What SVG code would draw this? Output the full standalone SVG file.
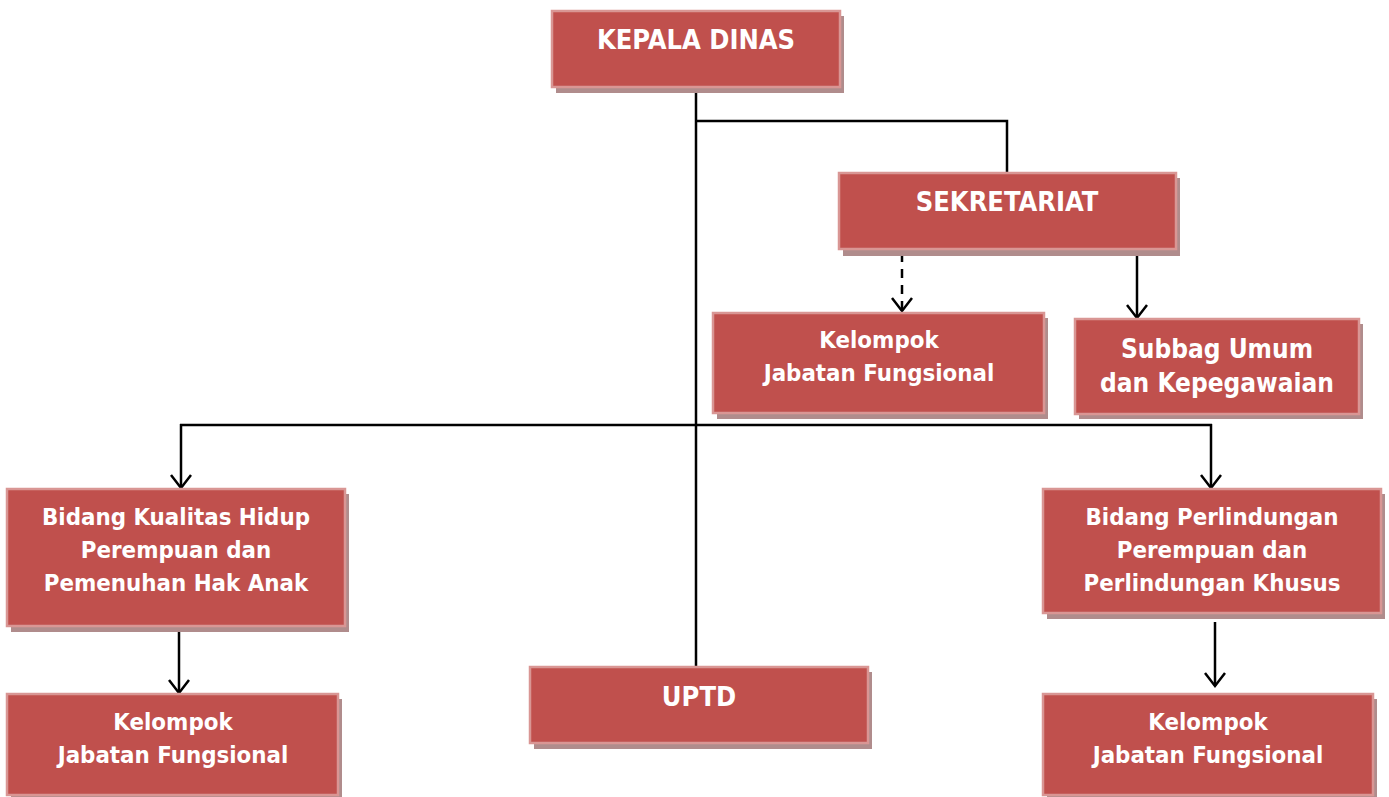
<svg xmlns="http://www.w3.org/2000/svg" width="1389" height="797" viewBox="0 0 1389 797">
<defs>
<style>
.box{fill:#c0504d;stroke:#d99694;stroke-width:2.5}
.sh{fill:#b08c8c}
.t{font-family:"DejaVu Sans","Liberation Sans",sans-serif;font-stretch:condensed;font-weight:bold;fill:#ffffff;text-anchor:middle;font-size:23.8px}
.big{font-size:27px}
.mid{font-size:26px}
.ln{stroke:#000;stroke-width:2.5;fill:none}
</style>
<marker id="ar" markerWidth="20" markerHeight="24" refX="15" refY="12" orient="auto" markerUnits="userSpaceOnUse" viewBox="0 0 20 24">
<path d="M2,2 L15,12 L2,22" fill="none" stroke="#000" stroke-width="2.5"/>
</marker>
</defs>
<rect width="1389" height="797" fill="#ffffff"/>
<g id="connectors">
<line class="ln" x1="696" y1="88" x2="696" y2="667"/>
<polyline class="ln" points="696,121 1007,121 1007,173"/>
<line class="ln" x1="902" y1="253" x2="902" y2="311" stroke-dasharray="9,7" marker-end="url(#ar)"/>
<line class="ln" x1="1137" y1="251" x2="1137" y2="318" marker-end="url(#ar)"/>
<line class="ln" x1="180" y1="425" x2="1212" y2="425"/>
<line class="ln" x1="181" y1="424" x2="181" y2="488" marker-end="url(#ar)"/>
<line class="ln" x1="1211" y1="424" x2="1211" y2="488" marker-end="url(#ar)"/>
<line class="ln" x1="179" y1="629" x2="179" y2="693" marker-end="url(#ar)"/>
<line class="ln" x1="1215" y1="622" x2="1215" y2="686" marker-end="url(#ar)"/>
</g>
<g id="kepala">
<rect class="sh" x="556" y="16" width="288" height="77"/>
<rect class="box" x="552" y="11" width="288" height="76"/>
<text class="t big" x="696" y="49">KEPALA DINAS</text>
</g>
<g id="sekretariat">
<rect class="sh" x="843" y="178" width="337" height="78"/>
<rect class="box" x="839" y="173" width="337" height="76"/>
<text class="t big" x="1007" y="211">SEKRETARIAT</text>
</g>
<g id="kjf-sek">
<rect class="sh" x="717" y="318" width="331" height="101"/>
<rect class="box" x="713" y="313" width="331" height="100"/>
<text class="t" x="879" y="348">Kelompok</text>
<text class="t" x="879" y="381">Jabatan Fungsional</text>
</g>
<g id="subbag">
<rect class="sh" x="1079" y="324" width="284" height="95"/>
<rect class="box" x="1075" y="319" width="284" height="95"/>
<text class="t mid" x="1217" y="358">Subbag Umum</text>
<text class="t mid" x="1217" y="392">dan Kepegawaian</text>
</g>
<g id="bidang-kualitas">
<rect class="sh" x="11" y="494" width="338" height="138"/>
<rect class="box" x="7" y="489" width="338" height="137"/>
<text class="t" x="176" y="525">Bidang Kualitas Hidup</text>
<text class="t" x="176" y="558">Perempuan dan</text>
<text class="t" x="176" y="591">Pemenuhan Hak Anak</text>
</g>
<g id="kjf-kualitas">
<rect class="sh" x="11" y="699" width="331" height="101"/>
<rect class="box" x="7" y="694" width="331" height="101"/>
<text class="t" x="173" y="730">Kelompok</text>
<text class="t" x="173" y="763">Jabatan Fungsional</text>
</g>
<g id="uptd">
<rect class="sh" x="534" y="672" width="338" height="77"/>
<rect class="box" x="530" y="667" width="338" height="76"/>
<text class="t big" x="699" y="706">UPTD</text>
</g>
<g id="bidang-perlindungan">
<rect class="sh" x="1047" y="494" width="338" height="125"/>
<rect class="box" x="1043" y="489" width="338" height="124"/>
<text class="t" x="1212" y="525">Bidang Perlindungan</text>
<text class="t" x="1212" y="558">Perempuan dan</text>
<text class="t" x="1212" y="591">Perlindungan Khusus</text>
</g>
<g id="kjf-perlindungan">
<rect class="sh" x="1047" y="699" width="330" height="101"/>
<rect class="box" x="1043" y="694" width="330" height="101"/>
<text class="t" x="1208" y="730">Kelompok</text>
<text class="t" x="1208" y="763">Jabatan Fungsional</text>
</g>
</svg>
